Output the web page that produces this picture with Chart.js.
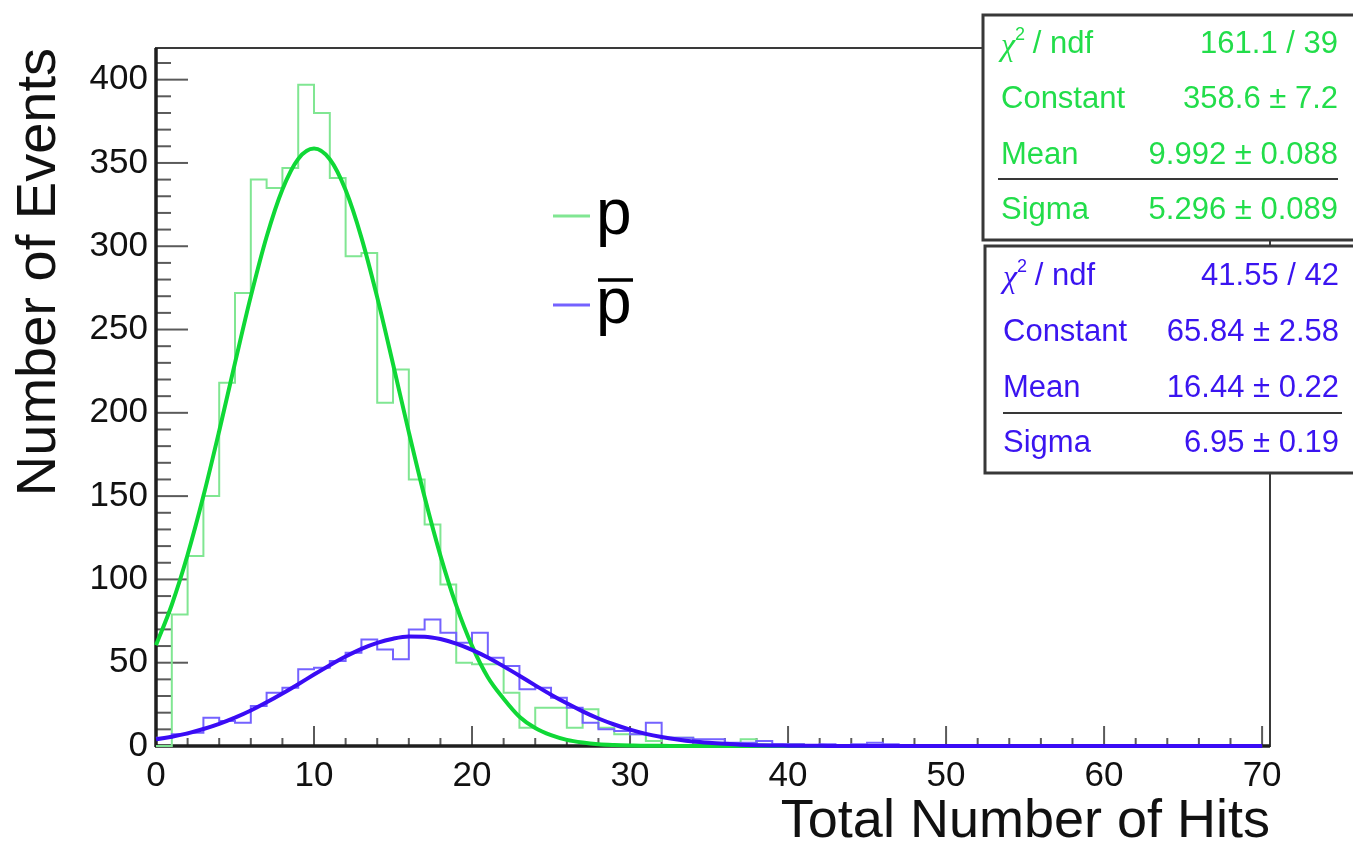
<!DOCTYPE html>
<html>
<head>
<meta charset="utf-8">
<script src="https://cdn.jsdelivr.net/npm/chart.js@4.4.1/dist/chart.umd.min.js"></script>
<style>
  html, body { margin: 0; padding: 0; background: #fff; }
  #wrap { position: relative; width: 1353px; height: 844px; }
</style>
</head>
<body>
<div id="wrap"><canvas id="hits" width="1353" height="844"></canvas></div>
<script>
// bin contents, one hit per bin, starting at 0 hits
const pCounts = [0, 79, 114, 150, 218, 272, 340, 335, 347, 397, 380, 341, 294, 296, 206, 226, 160, 133, 97, 50,
  49, 49, 32, 11, 23, 23, 11, 22, 11, 7, 7, 3, 5, 5, 2, 2, 1, 4, 1, 0,
  1, 0, 0, 0, 0, 0, 0, 0, 0, 0, 0, 0, 0, 0, 0, 0, 0, 0, 0, 0,
  0, 0, 0, 0, 0, 0, 0, 0, 0, 0];
const pbarCounts = [5, 7, 8, 17, 15, 14, 24, 32, 35, 46, 47, 51, 56, 64, 58, 52, 70, 76, 68, 62,
  68, 53, 48, 34, 35, 29, 23, 14, 10, 9, 7, 14, 5, 5, 4, 4, 2, 2, 3, 1,
  1, 0, 1, 0, 1, 2, 1, 0, 0, 0, 0, 0, 0, 0, 0, 0, 0, 0, 0, 0,
  0, 0, 0, 0, 0, 0, 0, 0, 0, 0];

// gaussian fit curves, read at every integer hit count
const pFit = [60.5, 84.8, 114.8, 150.0, 189.1, 230.0, 269.9, 305.7, 334.1, 352.4, 358.6, 352.2, 333.7, 305.2,
  269.3, 229.3, 188.4, 149.4, 114.3, 84.4, 60.1, 41.3, 28.4, 17.6, 10.8, 6.5, 3.7, 2.1, 1.1, 0.6,
  0.3, 0.1, 0.1, 0, 0, 0, 0, 0, 0, 0, 0, 0, 0, 0];
const pbarFit = [4.0, 5.6, 7.6, 10.2, 13.3, 17.0, 21.3, 26.2, 31.5, 37.1, 42.9, 48.5, 53.7, 58.3, 61.9,
  64.4, 65.7, 65.6, 64.2, 61.5, 57.7, 53.1, 47.8, 42.2, 36.4, 30.8, 25.6, 20.8, 16.5, 12.9, 9.8,
  7.3, 5.4, 3.9, 2.7, 1.9, 1.3, 0.8, 0.5, 0.3, 0.2, 0.1, 0.1, 0, 0, 0, 0, 0, 0, 0, 0,
  0, 0, 0, 0, 0, 0, 0, 0, 0, 0, 0, 0, 0, 0, 0, 0, 0, 0, 0, 0];

const xTicks = [0, 10, 20, 30, 40, 50, 60, 70];
const yTicks = [0, 50, 100, 150, 200, 250, 300, 350, 400];

const statLabels = ["χ2 / ndf", "Constant", "Mean", "Sigma"];
const pStats = ["161.1 / 39", "358.6 ± 7.2", "9.992 ± 0.088", "5.296 ± 0.089"];
const pbarStats = ["41.55 / 42", "65.84 ± 2.58", "16.44 ± 0.22", "6.95 ± 0.19"];

const GREEN_HIST = "#80e692";
const GREEN_FIT = "#0fd836";
const GREEN_TXT = "#22dd4a";
const BLUE_HIST = "#7462ff";
const BLUE_FIT = "#3a0cf5";
const BLUE_TXT = "#3a14f0";
const FONT = "'Liberation Sans', Arial, sans-serif";

function histPoints(counts) {
  const pts = counts.map((c, i) => ({ x: i, y: c }));
  pts.push({ x: counts.length, y: counts[counts.length - 1] });
  return pts;
}
function curvePoints(vals) {
  return vals.map((v, i) => ({ x: i, y: v }));
}

function line(ctx, x1, y1, x2, y2) {
  ctx.beginPath(); ctx.moveTo(x1, y1); ctx.lineTo(x2, y2); ctx.stroke();
}

function drawStatBox(ctx, box, values, color) {
  ctx.fillStyle = "#fff";
  ctx.fillRect(box.x, box.y, box.w, box.h);
  ctx.strokeStyle = "#383838";
  ctx.lineWidth = 3;
  ctx.strokeRect(box.x, box.y, box.w, box.h);
  ctx.lineWidth = 2;
  line(ctx, box.sepL, box.sepY, box.sepR, box.sepY);

  ctx.fillStyle = color;
  ctx.textBaseline = "middle";
  statLabels.forEach((lab, i) => {
    const y = box.rows[i];
    ctx.textAlign = "left";
    if (lab.startsWith("χ2")) {
      ctx.font = "italic 32px 'Liberation Serif', serif";
      ctx.fillText("χ", box.labX, y + 3);
      const w = ctx.measureText("χ").width;
      ctx.font = "18px " + FONT;
      ctx.fillText("2", box.labX + w, y - 9);
      ctx.font = "31px " + FONT;
      ctx.fillText(lab.slice(2), box.labX + w + 9, y);
    } else {
      ctx.font = "31px " + FONT;
      ctx.fillText(lab, box.labX, y);
    }
    ctx.textAlign = "right";
    ctx.fillText(values[i], box.valR, y);
  });
}

const rootFrame = {
  id: "rootFrame",
  beforeDatasetsDraw(chart) {
    const { ctx, chartArea: a, scales: { x, y } } = chart;
    ctx.save();
    ctx.strokeStyle = "#5a5a5a";
    ctx.lineWidth = 2;
    for (let v = 0; v <= x.max; v += 2) {
      const px = x.getPixelForValue(v);
      line(ctx, px, a.bottom, px, a.bottom - (v % 10 === 0 ? 20 : 8));
    }
    for (let v = 0; v <= y.max; v += 10) {
      const py = y.getPixelForValue(v);
      line(ctx, a.left, py, a.left + (v % 50 === 0 ? 32 : 15), py);
    }
    ctx.strokeStyle = "#3a3a3a";
    ctx.lineWidth = 2;
    ctx.strokeRect(a.left, a.top, a.right - a.left, a.bottom - a.top);
    ctx.strokeStyle = "#1e1e1e";
    ctx.lineWidth = 3.5;
    line(ctx, a.left, a.top, a.left, a.bottom + 1);
    line(ctx, a.left - 1, a.bottom, a.right, a.bottom);
    ctx.restore();
  },
  afterDraw(chart) {
    const ctx = chart.ctx;
    ctx.save();
    // legend
    ctx.lineWidth = 3;
    ctx.strokeStyle = GREEN_HIST;
    line(ctx, 553, 216, 590, 216);
    ctx.strokeStyle = BLUE_HIST;
    line(ctx, 553, 305, 590, 305);
    ctx.fillStyle = "#000";
    ctx.font = "64px " + FONT;
    ctx.textAlign = "left";
    ctx.textBaseline = "alphabetic";
    ctx.fillText("p", 596, 234);
    ctx.fillText("p", 596, 323);
    ctx.strokeStyle = "#000";
    ctx.lineWidth = 3.5;
    line(ctx, 598, 280, 633, 280);

    drawStatBox(ctx, { x: 983, y: 15, w: 385, h: 225, rows: [44, 99, 155, 210],
      sepY: 179, sepL: 998, sepR: 1338, labX: 1001, valR: 1338 }, pStats, GREEN_TXT);
    drawStatBox(ctx, { x: 985, y: 246, w: 385, h: 227, rows: [276, 332, 388, 443],
      sepY: 413, sepL: 1003, sepR: 1342, labX: 1003, valR: 1339 }, pbarStats, BLUE_TXT);
    ctx.restore();
  }
};

new Chart(document.getElementById("hits"), {
  type: "line",
  data: {
    datasets: [
      { label: "p", data: histPoints(pCounts), stepped: "before", borderColor: GREEN_HIST,
        borderWidth: 2, pointRadius: 0, fill: false, clip: 6, order: 4 },
      { label: "pbar", data: histPoints(pbarCounts), stepped: "before", borderColor: BLUE_HIST,
        borderWidth: 2, pointRadius: 0, fill: false, clip: 6, order: 3 },
      { label: "p fit", data: curvePoints(pFit), borderColor: GREEN_FIT, borderWidth: 4,
        pointRadius: 0, cubicInterpolationMode: "monotone", fill: false, clip: 6, order: 2 },
      { label: "pbar fit", data: curvePoints(pbarFit), borderColor: BLUE_FIT, borderWidth: 4,
        pointRadius: 0, cubicInterpolationMode: "monotone", fill: false, clip: 6, order: 1 }
    ]
  },
  options: {
    responsive: false,
    animation: false,
    devicePixelRatio: 1,
    layout: { padding: { left: 0, top: 48, right: 83, bottom: 0 } },
    plugins: { legend: { display: false }, tooltip: { enabled: false } },
    scales: {
      x: {
        type: "linear", min: 0, max: 70.5,
        afterBuildTicks: s => { s.ticks = xTicks.map(v => ({ value: v })); },
        afterFit: s => { s.height = 98; },
        grid: { display: false, drawTicks: false },
        border: { display: false },
        ticks: { color: "#111", font: { family: FONT, size: 35 }, padding: 9, maxRotation: 0 },
        title: { display: true, text: "Total Number of Hits", align: "end", color: "#111",
          font: { family: FONT, size: 54, lineHeight: 0.8 }, padding: { top: 0, bottom: 0 } }
      },
      y: {
        type: "linear", min: 0, max: 419,
        afterBuildTicks: s => { s.ticks = yTicks.map(v => ({ value: v })); },
        afterFit: s => { s.width = 156; },
        grid: { display: false, drawTicks: false },
        border: { display: false },
        ticks: { color: "#111", font: { family: FONT, size: 35 }, padding: 8 },
        title: { display: true, text: "Number of Events", align: "end", color: "#111",
          font: { family: FONT, size: 56, lineHeight: 1.0 }, padding: { top: 12, bottom: 0 } }
      }
    }
  },
  plugins: [rootFrame]
});
</script>
</body>
</html>
